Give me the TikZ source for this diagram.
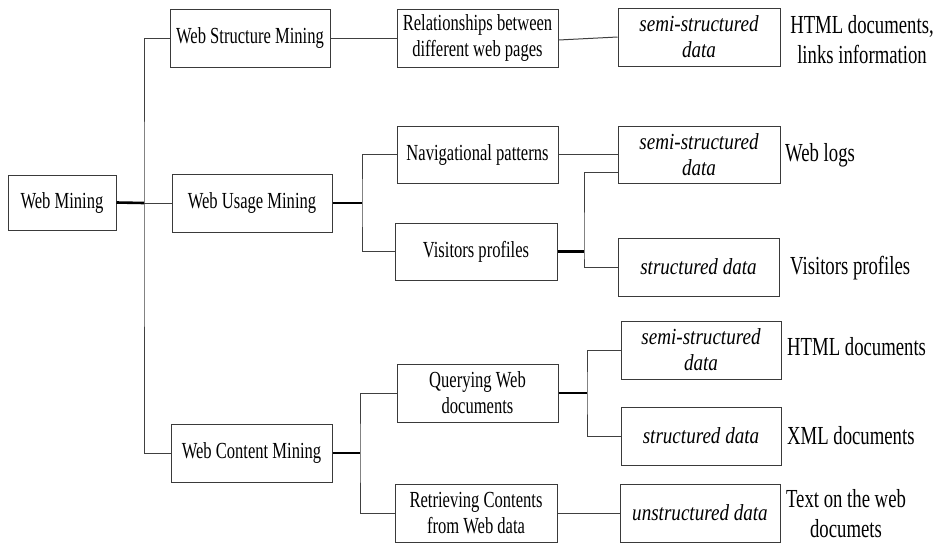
\documentclass[tikz,border=0pt]{standalone}
\usepackage{fontspec}
\setmainfont{Liberation Serif}[FakeStretch=0.72, ItalicFeatures={FakeStretch=0.83}]
\definecolor{boxline}{HTML}{3A3A3A}
\definecolor{linecol}{HTML}{404040}
\begin{document}
\begin{tikzpicture}[x=1pt,y=-1pt,
  box/.style={draw=boxline, line width=1pt, rectangle, inner sep=0pt,
    minimum height=58pt, align=center, font=\fontsize{23}{26}\selectfont},
  databox/.style={box, font=\fontsize{23}{26}\selectfont\itshape},
  lbl/.style={inner sep=0pt, align=center, font=\fontsize{26}{30}\selectfont},
  link/.style={draw=linecol, line width=1pt},
  stem/.style={draw=black, line width=2.6pt},
]
\useasboundingbox (0,0) rectangle (942,542);

% first level
\node[box, minimum width=108pt, minimum height=55pt] (wm) at (62,202.5) {Web Mining};
% mining kinds
\node[box, minimum width=160pt] (wsm) at (250,38) {Web Structure Mining};
\node[box, minimum width=160pt] (wum) at (252,203) {Web Usage Mining};
\node[box, minimum width=161pt] (wcm) at (251.5,453) {Web Content Mining};
% tasks
\node[box, minimum width=161pt] (rel) at (477.5,38) {Relationships between\\different web pages};
\node[box, minimum width=161pt, minimum height=57pt] (nav) at (477.5,154.5) {Navigational patterns};
\node[box, minimum width=162pt, minimum height=57pt] (vis) at (476,251.5) {Visitors profiles};
\node[box, minimum width=161pt] (qry) at (477.5,393) {Querying Web\\documents};
\node[box, minimum width=162pt] (ret) at (476,513) {Retrieving Contents\\from Web data};
% data kinds
\node[databox, minimum width=162pt] (s1) at (699,37) {semi-structured\\data};
\node[databox, minimum width=162pt, minimum height=57pt] (s2) at (699,154.5) {semi-structured\\data};
\node[databox, minimum width=161pt] (st1) at (698.5,267) {structured data};
\node[databox, minimum width=160pt] (s3) at (701,350) {semi-structured\\data};
\node[databox, minimum width=160pt] (st2) at (701,436) {structured data};
\node[databox, minimum width=160pt] (un) at (700,513) {unstructured data};
% sources
\node[lbl] (l1) at (862,40) {HTML documents,\\links information};
\node[lbl, anchor=west] (l2) at (785,155) {Web logs};
\node[lbl, anchor=west] (l3) at (790,268) {Visitors profiles};
\node[lbl, anchor=west] (l4) at (787,347) {HTML documents};
\node[lbl, anchor=west] (l5) at (787,436) {XML documents};
\node[lbl] (l6) at (846,514) {Text on the web\\documets};

% trunk
\coordinate (j0) at (144,203);
\draw[stem] (wm.east) -- (j0);
\draw[link] (j0) -- (wum.west);
\draw[link] (wsm.west) -| (j0) |- (wcm.west);
\draw[link] (wsm.east) -- (rel.west);
\draw[link] ([yshift=-2pt]rel.east) -- (s1.west);

% usage branch
\coordinate (j1) at (362,203);
\draw[stem] (wum.east) -- (j1);
\draw[link] (nav.west) -| (j1) |- (vis.west);
\draw[link] (nav.east) -- (s2.west);
\coordinate (j2) at (584,251.5);
\coordinate (s2in) at ([yshift=-17.5pt]s2.west);
\draw[stem] (vis.east) -- (j2);
\draw[link] (s2in) -| (j2) |- (st1.west);

% content branch
\coordinate (j3) at (360,453);
\draw[stem] (wcm.east) -- (j3);
\draw[link] (qry.west) -| (j3) |- (ret.west);
\coordinate (j4) at (587,393);
\draw[stem] (qry.east) -- (j4);
\draw[link] (s3.west) -| (j4) |- (st2.west);
\draw[link] (ret.east) -- (un.west);
\end{tikzpicture}
\end{document}
